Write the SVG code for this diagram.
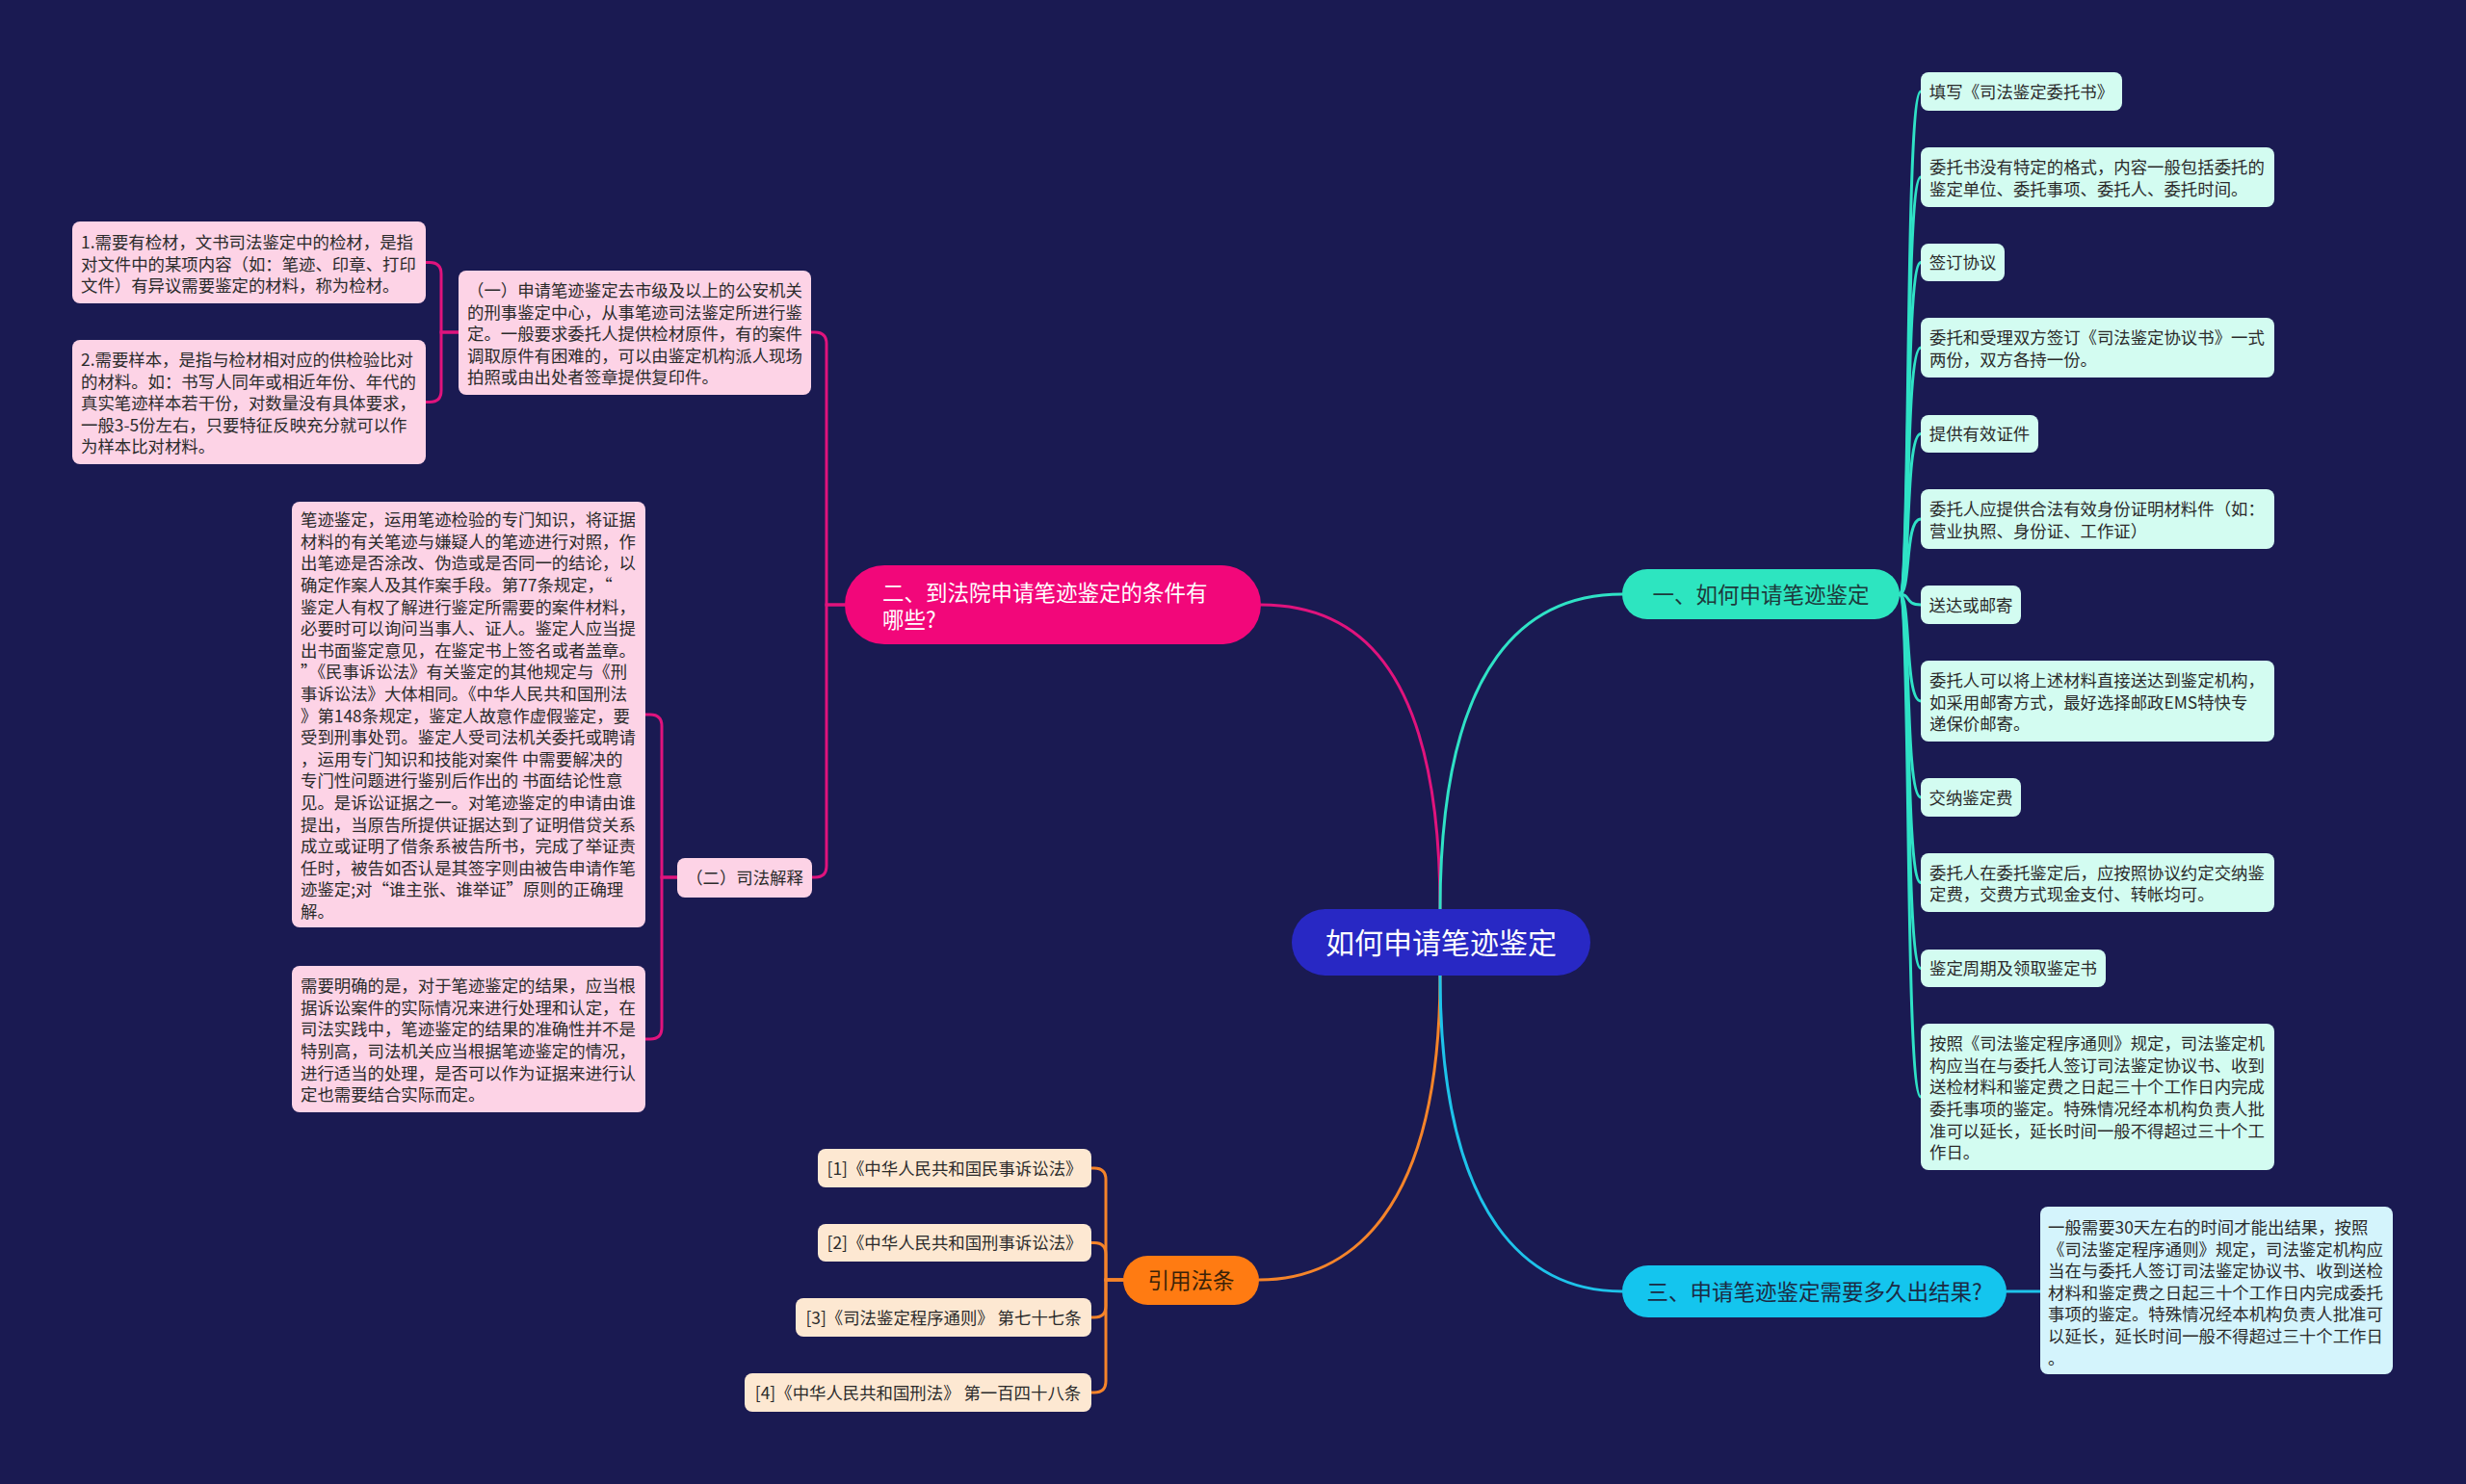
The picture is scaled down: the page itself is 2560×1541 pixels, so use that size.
<svg xmlns="http://www.w3.org/2000/svg" width="2560" height="1541" viewBox="0 0 2560 1541">
<style>
text{font-family:"Noto Sans CJK SC","Noto Sans",sans-serif;font-size:17.4px;fill:#2b2b2b}
.m{text-anchor:middle}
.b{font-size:22.5px}
.r{font-size:30px;fill:#ffffff}
.w{fill:#ffffff}
.lp{fill:#fdd3e6}
.lt{fill:#d3fcf1}
.lc{fill:#d4f4fc}
.lo{fill:#fde8d2}
.c{fill:none;stroke-width:3;stroke-linecap:round}
.cp{stroke:#e0137d}
.ct{stroke:#2fe2c6}
.cc{stroke:#1ec3ea}
.co{stroke:#f5842a}
</style>
<rect x="0" y="0" width="2560" height="1541" fill="#1a1a52"/>

<g id="connectors">
  <path class="c cp" d="M1495 945 C1495 680 1400 628 1309 628"/>
  <path class="c ct" d="M1495 945 C1495 680 1590 617 1684 617"/>
  <path class="c co" d="M1495 1012 C1495 1260 1400 1329 1307 1329"/>
  <path class="c cc" d="M1495 1012 C1495 1270 1590 1341 1684 1341"/>

  <path class="c cp" d="M877 628 H858 V357 Q858 345 846 345 H842"/>
  <path class="c cp" d="M877 628 H858 V899 Q858 911 846 911 H842"/>
  <path class="c cp" d="M476 345 H458 V284.5 Q458 272.5 446 272.5 H442"/>
  <path class="c cp" d="M476 345 H458 V405.5 Q458 417.5 446 417.5 H442"/>
  <path class="c cp" d="M703 911 H687 V754 Q687 742 675 742 H670"/>
  <path class="c cp" d="M703 911 H687 V1067 Q687 1079 675 1079 H670"/>

  <path class="c ct" d="M1972 617 C1984 617 1977 95 1994 95"/>
  <path class="c ct" d="M1972 617 C1984 617 1977 184 1994 184"/>
  <path class="c ct" d="M1972 617 C1984 617 1977 272.5 1994 272.5"/>
  <path class="c ct" d="M1972 617 C1984 617 1977 361 1994 361"/>
  <path class="c ct" d="M1972 617 C1984 617 1977 450.5 1994 450.5"/>
  <path class="c ct" d="M1972 617 C1984 617 1977 539 1994 539"/>
  <path class="c ct" d="M1972 617 C1984 617 1977 628 1994 628"/>
  <path class="c ct" d="M1972 617 C1984 617 1977 728 1994 728"/>
  <path class="c ct" d="M1972 617 C1984 617 1977 828 1994 828"/>
  <path class="c ct" d="M1972 617 C1984 617 1977 916.5 1994 916.5"/>
  <path class="c ct" d="M1972 617 C1984 617 1977 1005.5 1994 1005.5"/>
  <path class="c ct" d="M1972 617 C1984 617 1977 1139 1994 1139"/>

  <path class="c cc" d="M2083 1341 H2118"/>

  <path class="c co" d="M1166 1329 H1148 V1225 Q1148 1213 1136 1213 H1133"/>
  <path class="c co" d="M1166 1329 H1148 V1302.5 Q1148 1290.5 1136 1290.5 H1133"/>
  <path class="c co" d="M1166 1329 H1148 V1356 Q1148 1368 1136 1368 H1133"/>
  <path class="c co" d="M1166 1329 H1148 V1434 Q1148 1446 1136 1446 H1133"/>
</g>

<g id="root">
  <rect x="1341" y="944" width="310" height="69" rx="34.5" fill="#2828c4"/>
  <text class="r m" x="1496" y="990">如何申请笔迹鉴定</text>
</g>

<g id="branch1">
  <rect x="1684" y="591" width="288" height="52" rx="26" fill="#2de5c0"/>
  <text class="b m" x="1828" y="625.5" style="fill:#1d3a3c">一、如何申请笔迹鉴定</text>
</g>
<g id="branch2">
  <rect x="877" y="587" width="432" height="82" rx="41" fill="#f2077a"/>
  <text class="b w" x="916" y="623.5">二、到法院申请笔迹鉴定的条件有</text>
  <text class="b w" x="916" y="651.5">哪些?</text>
</g>
<g id="branch3">
  <rect x="1684" y="1314" width="399" height="54" rx="27" fill="#14c5ee"/>
  <text class="b m" x="1883.5" y="1349.5" style="fill:#1b2b44">三、申请笔迹鉴定需要多久出结果?</text>
</g>
<g id="branch4">
  <rect x="1166" y="1304" width="141" height="51" rx="25.5" fill="#ff7b12"/>
  <text class="b m" x="1236.5" y="1338" style="fill:#3a2208">引用法条</text>
</g>

<g id="b2-c1">
  <rect class="lp" x="476" y="281" width="366" height="129" rx="8"/>
  <text x="485" y="308">（一）申请笔迹鉴定去市级及以上的公安机关</text>
  <text x="485" y="330.6">的刑事鉴定中心，从事笔迹司法鉴定所进行鉴</text>
  <text x="485" y="353.2">定。一般要求委托人提供检材原件，有的案件</text>
  <text x="485" y="375.8">调取原件有困难的，可以由鉴定机构派人现场</text>
  <text x="485" y="398.4">拍照或由出处者签章提供复印件。</text>
</g>
<g id="b2-c1-a">
  <rect class="lp" x="75" y="230" width="367" height="85" rx="8"/>
  <text x="84" y="258">1.需要有检材，文书司法鉴定中的检材，是指</text>
  <text x="84" y="280.6">对文件中的某项内容（如：笔迹、印章、打印</text>
  <text x="84" y="303.2">文件）有异议需要鉴定的材料，称为检材。</text>
</g>
<g id="b2-c1-b">
  <rect class="lp" x="75" y="353" width="367" height="129" rx="8"/>
  <text x="84" y="380">2.需要样本，是指与检材相对应的供检验比对</text>
  <text x="84" y="402.6">的材料。如：书写人同年或相近年份、年代的</text>
  <text x="84" y="425.2">真实笔迹样本若干份，对数量没有具体要求，</text>
  <text x="84" y="447.8">一般3-5份左右，只要特征反映充分就可以作</text>
  <text x="84" y="470.4">为样本比对材料。</text>
</g>
<g id="b2-c2">
  <rect class="lp" x="703" y="891" width="140" height="41" rx="8"/>
  <text class="m" x="773" y="918">（二）司法解释</text>
</g>
<g id="b2-c2-a">
  <rect class="lp" x="303" y="521" width="367" height="442" rx="8"/>
  <text x="312" y="546.2">笔迹鉴定，运用笔迹检验的专门知识，将证据</text>
  <text x="312" y="568.8">材料的有关笔迹与嫌疑人的笔迹进行对照，作</text>
  <text x="312" y="591.4">出笔迹是否涂改、伪造或是否同一的结论，以</text>
  <text x="312" y="614">确定作案人及其作案手段。第77条规定，“</text>
  <text x="312" y="636.6">鉴定人有权了解进行鉴定所需要的案件材料，</text>
  <text x="312" y="659.2">必要时可以询问当事人、证人。鉴定人应当提</text>
  <text x="312" y="681.8">出书面鉴定意见，在鉴定书上签名或者盖章。</text>
  <text x="312" y="704.4">”《民事诉讼法》有关鉴定的其他规定与《刑</text>
  <text x="312" y="727">事诉讼法》大体相同。《中华人民共和国刑法</text>
  <text x="312" y="749.6">》第148条规定，鉴定人故意作虚假鉴定，要</text>
  <text x="312" y="772.2">受到刑事处罚。鉴定人受司法机关委托或聘请</text>
  <text x="312" y="794.8">，运用专门知识和技能对案件 中需要解决的</text>
  <text x="312" y="817.4">专门性问题进行鉴别后作出的 书面结论性意</text>
  <text x="312" y="840">见。是诉讼证据之一。对笔迹鉴定的申请由谁</text>
  <text x="312" y="862.6">提出，当原告所提供证据达到了证明借贷关系</text>
  <text x="312" y="885.2">成立或证明了借条系被告所书，完成了举证责</text>
  <text x="312" y="907.8">任时，被告如否认是其签字则由被告申请作笔</text>
  <text x="312" y="930.4">迹鉴定;对“谁主张、谁举证”原则的正确理</text>
  <text x="312" y="953">解。</text>
</g>
<g id="b2-c2-b">
  <rect class="lp" x="303" y="1003" width="367" height="152" rx="8"/>
  <text x="312" y="1030.1">需要明确的是，对于笔迹鉴定的结果，应当根</text>
  <text x="312" y="1052.7">据诉讼案件的实际情况来进行处理和认定，在</text>
  <text x="312" y="1075.3">司法实践中，笔迹鉴定的结果的准确性并不是</text>
  <text x="312" y="1097.9">特别高，司法机关应当根据笔迹鉴定的情况，</text>
  <text x="312" y="1120.5">进行适当的处理，是否可以作为证据来进行认</text>
  <text x="312" y="1143.1">定也需要结合实际而定。</text>
</g>

<g id="b1-l1">
  <rect class="lt" x="1994" y="75" width="209" height="40" rx="8"/>
  <text class="m" x="2098.5" y="101.6">填写《司法鉴定委托书》</text>
</g>
<g id="b1-l2">
  <rect class="lt" x="1994" y="153" width="367" height="62" rx="8"/>
  <text x="2003" y="180.3">委托书没有特定的格式，内容一般包括委托的</text>
  <text x="2003" y="202.9">鉴定单位、委托事项、委托人、委托时间。</text>
</g>
<g id="b1-l3">
  <rect class="lt" x="1994" y="253" width="87" height="39" rx="8"/>
  <text class="m" x="2037.5" y="279">签订协议</text>
</g>
<g id="b1-l4">
  <rect class="lt" x="1994" y="330" width="367" height="62" rx="8"/>
  <text x="2003" y="357.3">委托和受理双方签订《司法鉴定协议书》一式</text>
  <text x="2003" y="379.9">两份，双方各持一份。</text>
</g>
<g id="b1-l5">
  <rect class="lt" x="1994" y="431" width="122" height="39" rx="8"/>
  <text class="m" x="2055" y="457">提供有效证件</text>
</g>
<g id="b1-l6">
  <rect class="lt" x="1994" y="508" width="367" height="62" rx="8"/>
  <text x="2003" y="535.3">委托人应提供合法有效身份证明材料件（如：</text>
  <text x="2003" y="557.9">营业执照、身份证、工作证）</text>
</g>
<g id="b1-l7">
  <rect class="lt" x="1994" y="608" width="104" height="40" rx="8"/>
  <text class="m" x="2046" y="634.6">送达或邮寄</text>
</g>
<g id="b1-l8">
  <rect class="lt" x="1994" y="686" width="367" height="84" rx="8"/>
  <text x="2003" y="713">委托人可以将上述材料直接送达到鉴定机构，</text>
  <text x="2003" y="735.6">如采用邮寄方式，最好选择邮政EMS特快专</text>
  <text x="2003" y="758.2">递保价邮寄。</text>
</g>
<g id="b1-l9">
  <rect class="lt" x="1994" y="808" width="104" height="40" rx="8"/>
  <text class="m" x="2046" y="834.6">交纳鉴定费</text>
</g>
<g id="b1-l10">
  <rect class="lt" x="1994" y="886" width="367" height="61" rx="8"/>
  <text x="2003" y="912.8">委托人在委托鉴定后，应按照协议约定交纳鉴</text>
  <text x="2003" y="935.4">定费，交费方式现金支付、转帐均可。</text>
</g>
<g id="b1-l11">
  <rect class="lt" x="1994" y="986" width="192" height="39" rx="8"/>
  <text class="m" x="2090" y="1012">鉴定周期及领取鉴定书</text>
</g>
<g id="b1-l12">
  <rect class="lt" x="1994" y="1063" width="367" height="152" rx="8"/>
  <text x="2003" y="1090.1">按照《司法鉴定程序通则》规定，司法鉴定机</text>
  <text x="2003" y="1112.7">构应当在与委托人签订司法鉴定协议书、收到</text>
  <text x="2003" y="1135.3">送检材料和鉴定费之日起三十个工作日内完成</text>
  <text x="2003" y="1157.9">委托事项的鉴定。特殊情况经本机构负责人批</text>
  <text x="2003" y="1180.5">准可以延长，延长时间一般不得超过三十个工</text>
  <text x="2003" y="1203.1">作日。</text>
</g>

<g id="b3-l1">
  <rect class="lc" x="2118" y="1253" width="366" height="174" rx="8"/>
  <text x="2126" y="1281">一般需要30天左右的时间才能出结果，按照</text>
  <text x="2126" y="1303.6">《司法鉴定程序通则》规定，司法鉴定机构应</text>
  <text x="2126" y="1326.2">当在与委托人签订司法鉴定协议书、收到送检</text>
  <text x="2126" y="1348.8">材料和鉴定费之日起三十个工作日内完成委托</text>
  <text x="2126" y="1371.4">事项的鉴定。特殊情况经本机构负责人批准可</text>
  <text x="2126" y="1394">以延长，延长时间一般不得超过三十个工作日</text>
  <text x="2126" y="1416.6">。</text>
</g>

<g id="b4-l1">
  <rect class="lo" x="849" y="1193" width="284" height="40" rx="8"/>
  <text class="m" x="991" y="1219.6">[1]《中华人民共和国民事诉讼法》</text>
</g>
<g id="b4-l2">
  <rect class="lo" x="849" y="1271" width="284" height="39" rx="8"/>
  <text class="m" x="991" y="1297">[2]《中华人民共和国刑事诉讼法》</text>
</g>
<g id="b4-l3">
  <rect class="lo" x="826" y="1348" width="307" height="40" rx="8"/>
  <text class="m" x="979.5" y="1374.6">[3]《司法鉴定程序通则》 第七十七条</text>
</g>
<g id="b4-l4">
  <rect class="lo" x="773" y="1426" width="360" height="40" rx="8"/>
  <text class="m" x="953" y="1452.6">[4]《中华人民共和国刑法》 第一百四十八条</text>
</g>
</svg>
